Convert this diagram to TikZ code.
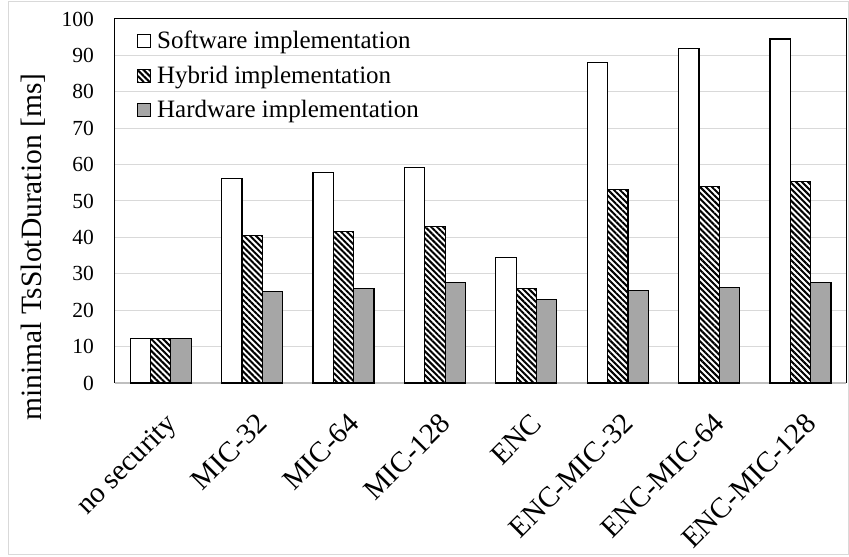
\documentclass[tikz,border=0pt]{standalone}
\usepackage{fontspec}
\setmainfont{Liberation Serif}
\usepackage{tikz}
\usetikzlibrary{patterns.meta}

\definecolor{gridgray}{HTML}{D9D9D9}
\definecolor{axisgray}{HTML}{BFBFBF}
\definecolor{hwgray}{HTML}{A6A6A6}

\begin{document}
\begin{tikzpicture}[x=1pt, y=3.64pt,
  soft/.style={draw=black, line width=1.2pt, fill=white},
  hyb/.style={draw=black, line width=1.2pt, preaction={fill=white},
    pattern={Lines[angle=-45, distance=4.2pt, line width=2pt]}},
  hard/.style={draw=black, line width=1.2pt, fill=hwgray},
  gline/.style={draw=gridgray, line width=1pt},
  ticklab/.style={anchor=east, inner sep=0pt, font=\fontsize{21.5}{24}\selectfont},
  catlab/.style={anchor=base east, rotate=45, inner sep=0pt, font=\fontsize{29}{31}\selectfont},
  leglab/.style={anchor=base west, inner sep=0pt, font=\fontsize{25}{28}\selectfont}]
\useasboundingbox (-115, -47.53) rectangle (734, 105.22);

% chart area
\draw[gridgray, line width=1pt] (-106, -46.98) rectangle (733, 104.81);

% grid
\draw[gline] (0, 10) -- (731, 10);
\draw[gline] (0, 20) -- (731, 20);
\draw[gline] (0, 30) -- (731, 30);
\draw[gline] (0, 40) -- (731, 40);
\draw[gline] (0, 50) -- (731, 50);
\draw[gline] (0, 60) -- (731, 60);
\draw[gline] (0, 70) -- (731, 70);
\draw[gline] (0, 80) -- (731, 80);
\draw[gline] (0, 90) -- (731, 90);

% plot frame and axis
\draw[line width=1pt] (0, 0) -- (0, 100) -- (731, 100) -- (731, 0);
\draw[axisgray, line width=1.5pt] (0, 0) -- (731, 0);

% tick labels
\node[ticklab] (y0) at (-21, 0) {0};
\node[ticklab] (y10) at (-21, 10) {10};
\node[ticklab] (y20) at (-21, 20) {20};
\node[ticklab] (y30) at (-21, 30) {30};
\node[ticklab] (y40) at (-21, 40) {40};
\node[ticklab] (y50) at (-21, 50) {50};
\node[ticklab] (y60) at (-21, 60) {60};
\node[ticklab] (y70) at (-21, 70) {70};
\node[ticklab] (y80) at (-21, 80) {80};
\node[ticklab] (y90) at (-21, 90) {90};
\node[ticklab] (y100) at (-21, 100) {100};

\node[rotate=90, anchor=base, inner sep=0pt, font=\fontsize{29.5}{31}\selectfont]
  (ytitle) at (-73, 37.3) {minimal TsSlotDuration [ms]};

% no security
\draw[soft] (15.2, 0) rectangle (35.5, 12.2);
\draw[hyb] (35.5, 0) rectangle (55.9, 12.2);
\draw[hard] (55.9, 0) rectangle (76.2, 12.2);

% MIC-32
\draw[soft] (106.6, 0) rectangle (126.9, 56.2);
\draw[hyb] (126.9, 0) rectangle (147.3, 40.6);
\draw[hard] (147.3, 0) rectangle (167.6, 25.2);

% MIC-64
\draw[soft] (198.0, 0) rectangle (218.3, 57.8);
\draw[hyb] (218.3, 0) rectangle (238.7, 41.6);
\draw[hard] (238.7, 0) rectangle (259.0, 26.0);

% MIC-128
\draw[soft] (289.4, 0) rectangle (309.7, 59.1);
\draw[hyb] (309.7, 0) rectangle (330.1, 42.9);
\draw[hard] (330.1, 0) rectangle (350.4, 27.5);

% ENC
\draw[soft] (380.8, 0) rectangle (401.1, 34.4);
\draw[hyb] (401.1, 0) rectangle (421.5, 26.0);
\draw[hard] (421.5, 0) rectangle (441.8, 22.9);

% ENC-MIC-32
\draw[soft] (472.2, 0) rectangle (492.5, 88.0);
\draw[hyb] (492.5, 0) rectangle (512.9, 53.2);
\draw[hard] (512.9, 0) rectangle (533.2, 25.4);

% ENC-MIC-64
\draw[soft] (563.6, 0) rectangle (583.9, 92.0);
\draw[hyb] (583.9, 0) rectangle (604.3, 54.0);
\draw[hard] (604.3, 0) rectangle (624.6, 26.3);

% ENC-MIC-128
\draw[soft] (655.0, 0) rectangle (675.3, 94.5);
\draw[hyb] (675.3, 0) rectangle (695.7, 55.4);
\draw[hard] (695.7, 0) rectangle (716.0, 27.7);

% categories
\node[catlab] (nosec) at (62.8, -11.6) {no security};
\node[catlab] (mic32) at (154.2, -11.6) {MIC-32};
\node[catlab] (mic64) at (245.6, -11.6) {MIC-64};
\node[catlab] (mic128) at (337.0, -11.6) {MIC-128};
\node[catlab] (enc) at (428.4, -11.6) {ENC};
\node[catlab] (encmic32) at (519.8, -11.6) {ENC-MIC-32};
\node[catlab] (encmic64) at (611.2, -11.6) {ENC-MIC-64};
\node[catlab] (encmic128) at (702.6, -11.6) {ENC-MIC-128};

% legend
\draw[soft, line width=1pt] (22.5, 92.1) rectangle (35.5, 95.7);
\draw[hyb, line width=1pt] (22.5, 82.6) rectangle (35.5, 86.2);
\draw[hard, line width=1pt] (22.5, 73.1) rectangle (35.5, 76.7);
\node[leglab] (lsoft) at (42, 91.9) {Software implementation};
\node[leglab] (lhyb) at (42, 82.4) {Hybrid implementation};
\node[leglab] (lhard) at (42, 72.9) {Hardware implementation};
\end{tikzpicture}
\end{document}
